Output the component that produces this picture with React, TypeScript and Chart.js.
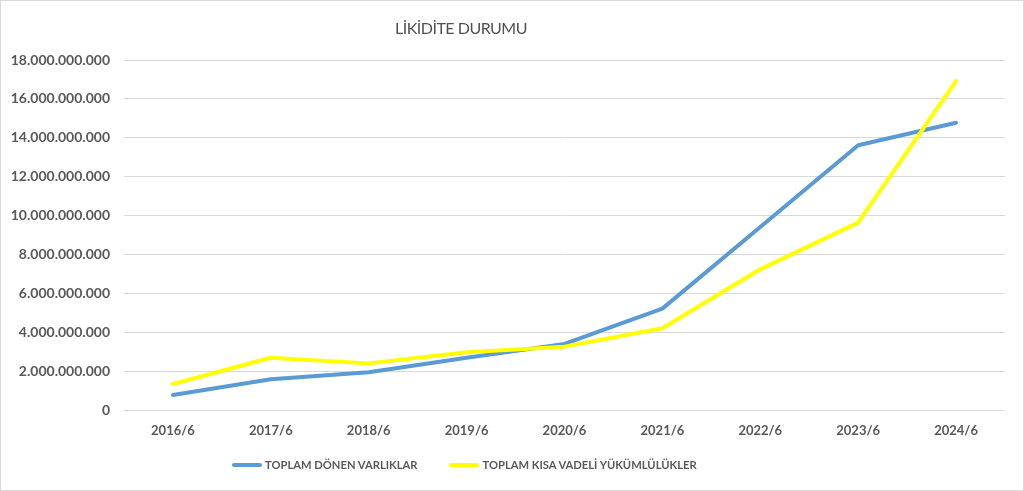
import { useEffect, useRef } from 'react';
import { Chart, registerables } from 'chart.js';

Chart.register(...registerables);

const categories = ['2016/6', '2017/6', '2018/6', '2019/6', '2020/6', '2021/6', '2022/6', '2023/6', '2024/6'];

const donenVarliklar = [
  800000000, 1600000000, 1960000000, 2710000000, 3420000000, 5230000000, 9420000000, 13620000000, 14780000000,
];

const kisaVadeliYukumlulukler = [
  1360000000, 2710000000, 2420000000, 2990000000, 3280000000, 4220000000, 7250000000, 9650000000, 16920000000,
];

const seriesLabels = ['TOPLAM DÖNEN VARLIKLAR', 'TOPLAM KISA VADELİ YÜKÜMLÜLÜKLER'];
const seriesColors = ['#5b9bd5', '#ffff00'];

const textColor = '#595959';
const fontFamily = 'Lato, "Open Sans", sans-serif';

function LiquidityChart() {
  const canvasRef = useRef<HTMLCanvasElement>(null);
  const chartRef = useRef<Chart | null>(null);

  useEffect(() => {
    if (!canvasRef.current) return;
    chartRef.current?.destroy();

    chartRef.current = new Chart(canvasRef.current, {
      type: 'line',
      data: {
        labels: categories,
        datasets: [
          {
            label: seriesLabels[0],
            data: donenVarliklar,
            borderColor: seriesColors[0],
            backgroundColor: seriesColors[0],
            borderWidth: 4,
            tension: 0,
            pointRadius: 0,
            borderCapStyle: 'round',
            borderJoinStyle: 'round',
            order: 1,
          },
          {
            label: seriesLabels[1],
            data: kisaVadeliYukumlulukler,
            borderColor: seriesColors[1],
            backgroundColor: seriesColors[1],
            borderWidth: 4,
            tension: 0,
            pointRadius: 0,
            borderCapStyle: 'round',
            borderJoinStyle: 'round',
            order: 0,
          },
        ],
      },
      options: {
        animation: false,
        responsive: true,
        maintainAspectRatio: false,
        layout: { padding: { top: 60, right: 19, bottom: 0, left: 0 } },
        plugins: {
          legend: { display: false },
          title: { display: false },
          tooltip: { enabled: false },
        },
        scales: {
          x: {
            offset: true,
            grid: { display: false, drawTicks: false },
            border: { display: false },
            ticks: {
              color: textColor,
              padding: 13,
              font: { family: fontFamily, size: 13, weight: 'bold' },
            },
            afterFit: (scale) => {
              scale.height = 80.5;
            },
          },
          y: {
            min: 0,
            max: 18000000000,
            grid: { color: '#d9d9d9', lineWidth: 1, drawTicks: false },
            border: { display: false },
            ticks: {
              stepSize: 2000000000,
              color: textColor,
              padding: 14,
              font: { family: fontFamily, size: 14, weight: 'bold' },
              callback: (value) => Number(value).toLocaleString('de-DE'),
            },
            afterFit: (scale) => {
              scale.width = 124;
            },
          },
        },
      },
    });

    return () => {
      chartRef.current?.destroy();
      chartRef.current = null;
    };
  }, []);

  return <canvas ref={canvasRef} />;
}

export default function App() {
  return (
    <div
      style={{
        position: 'absolute',
        left: 0,
        top: 0,
        width: 1024,
        height: 491,
        background: '#fff',
        fontFamily,
      }}
    >
      <div style={{ position: 'absolute', inset: 0 }}>
        <LiquidityChart />
      </div>
      <div
        style={{
          position: 'absolute',
          left: 0,
          width: 922,
          top: 18,
          textAlign: 'center',
          fontSize: 16,
          letterSpacing: -0.5,
          color: '#505050',
          lineHeight: '20px',
        }}
      >
        LİKİDİTE DURUMU
      </div>
      <div
        style={{
          position: 'absolute',
          top: 456,
          left: 232,
          display: 'flex',
          alignItems: 'center',
          fontSize: 11.2,
          fontWeight: 'bold',
          color: textColor,
          lineHeight: '18px',
        }}
      >
        {seriesLabels.map((label, i) => (
          <div key={label} style={{ display: 'flex', alignItems: 'center', marginRight: i === 0 ? 32 : 0 }}>
            <span
              style={{
                display: 'inline-block',
                width: 30,
                height: 4,
                borderRadius: 2,
                background: seriesColors[i],
                marginRight: 3,
              }}
            />
            {label}
          </div>
        ))}
      </div>
      <div
        style={{
          position: 'absolute',
          inset: 0,
          border: '1px solid #d9d9d9',
          pointerEvents: 'none',
        }}
      />
    </div>
  );
}
